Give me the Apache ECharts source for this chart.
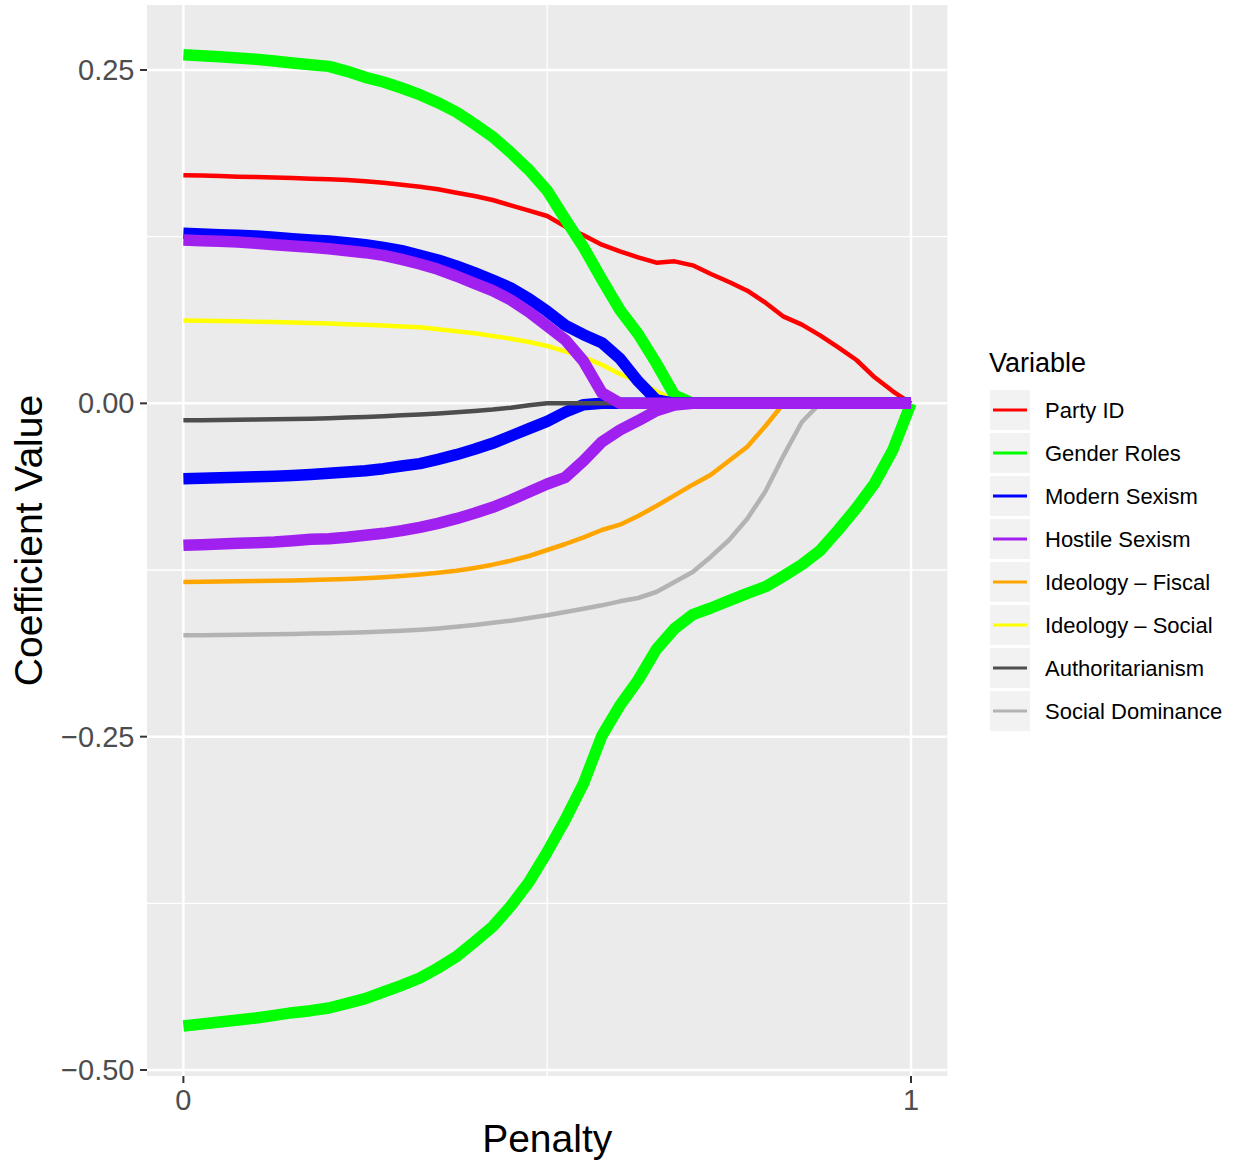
<!DOCTYPE html>
<html>
<head>
<meta charset="utf-8">
<script src="https://cdn.jsdelivr.net/npm/echarts@6/dist/echarts.min.js"></script>
<style>
  html, body { margin: 0; padding: 0; background: #ffffff; }
  #chart { width: 1239px; height: 1163px; }
</style>
</head>
<body>
<div id="chart"></div>
<script>
// ---------------- data ----------------
const penalty = [0, 0.025, 0.05, 0.075, 0.1, 0.125, 0.15, 0.175, 0.2, 0.225, 0.25, 0.275, 0.3, 0.325, 0.35, 0.375, 0.4, 0.425, 0.45, 0.475, 0.5, 0.525, 0.55, 0.575, 0.6, 0.625, 0.65, 0.675, 0.7, 0.725, 0.75, 0.775, 0.8, 0.825, 0.85, 0.875, 0.9, 0.925, 0.95, 0.975, 1];

const partyId = [0.171, 0.1708, 0.1705, 0.170, 0.1697, 0.1693, 0.169, 0.1685, 0.168, 0.1675, 0.1665, 0.1655, 0.164, 0.1625, 0.1605, 0.158, 0.1555, 0.1525, 0.1485, 0.1445, 0.1405, 0.1325, 0.126, 0.119, 0.114, 0.1095, 0.1055, 0.1065, 0.1035, 0.097, 0.091, 0.0845, 0.0755, 0.065, 0.059, 0.051, 0.042, 0.0325, 0.0195, 0.009, 0];

const genderRolesA = [0.2615, 0.2607, 0.260, 0.259, 0.258, 0.2567, 0.2553, 0.254, 0.2527, 0.249, 0.2445, 0.241, 0.2365, 0.2315, 0.2255, 0.2185, 0.2095, 0.200, 0.188, 0.175, 0.1595, 0.138, 0.117, 0.093, 0.070, 0.052, 0.030, 0.006, 0, 0, 0, 0, 0, 0, 0, 0, 0, 0, 0, 0, 0];

const genderRolesB = [-0.467, -0.4655, -0.464, -0.4625, -0.461, -0.459, -0.457, -0.4555, -0.4535, -0.450, -0.4465, -0.4415, -0.4365, -0.431, -0.4235, -0.415, -0.404, -0.3925, -0.377, -0.359, -0.3365, -0.312, -0.285, -0.2495, -0.2265, -0.2075, -0.1845, -0.169, -0.1585, -0.1535, -0.148, -0.1425, -0.1375, -0.1295, -0.121, -0.1105, -0.095, -0.0785, -0.060, -0.035, 0];

const modernSexismA = [0.1275, 0.127, 0.1265, 0.126, 0.1255, 0.1245, 0.1235, 0.1225, 0.1217, 0.1205, 0.119, 0.117, 0.1145, 0.111, 0.1075, 0.103, 0.098, 0.0925, 0.0865, 0.0785, 0.069, 0.0585, 0.0515, 0.0455, 0.0335, 0.0165, 0.0025, 0, 0, 0, 0, 0, 0, 0, 0, 0, 0, 0, 0, 0, 0];

const modernSexismB = [-0.0565, -0.0562, -0.0558, -0.0555, -0.0551, -0.0547, -0.0541, -0.0534, -0.0525, -0.0515, -0.0505, -0.049, -0.047, -0.0452, -0.042, -0.0385, -0.0345, -0.030, -0.0245, -0.019, -0.0135, -0.0065, -0.001, 0, 0, 0, 0, 0, 0, 0, 0, 0, 0, 0, 0, 0, 0, 0, 0, 0, 0];

const hostileSexismA = [0.1225, 0.122, 0.1215, 0.121, 0.120, 0.119, 0.118, 0.117, 0.116, 0.1145, 0.113, 0.111, 0.108, 0.1045, 0.1005, 0.0955, 0.090, 0.0845, 0.0775, 0.0685, 0.058, 0.0475, 0.0315, 0.008, 0, 0, 0, 0, 0, 0, 0, 0, 0, 0, 0, 0, 0, 0, 0, 0, 0];

const hostileSexismB = [-0.1065, -0.106, -0.1055, -0.105, -0.1045, -0.104, -0.103, -0.102, -0.1015, -0.1005, -0.099, -0.0975, -0.0955, -0.093, -0.090, -0.0865, -0.0825, -0.078, -0.0725, -0.0665, -0.0605, -0.0555, -0.043, -0.029, -0.020, -0.013, -0.0055, -0.0013, 0, 0, 0, 0, 0, 0, 0, 0, 0, 0, 0, 0, 0];

const ideologyFiscal = [-0.134, -0.1338, -0.1336, -0.1334, -0.1332, -0.133, -0.1328, -0.1325, -0.1322, -0.1318, -0.1312, -0.1305, -0.1295, -0.1283, -0.127, -0.1255, -0.1235, -0.121, -0.118, -0.1145, -0.110, -0.1055, -0.1005, -0.095, -0.091, -0.0845, -0.077, -0.069, -0.061, -0.0535, -0.043, -0.0325, -0.017, 0, 0, 0, 0, 0, 0, 0, 0];

const ideologySocial = [0.0622, 0.062, 0.0618, 0.0615, 0.0612, 0.061, 0.0606, 0.0602, 0.0598, 0.0594, 0.059, 0.0584, 0.0577, 0.057, 0.0555, 0.054, 0.0525, 0.0505, 0.0485, 0.046, 0.043, 0.039, 0.0345, 0.029, 0.022, 0.0165, 0.009, 0.002, 0, 0, 0, 0, 0, 0, 0, 0, 0, 0, 0, 0, 0];

const authoritarianism = [-0.0127, -0.0126, -0.0125, -0.0124, -0.0122, -0.012, -0.0118, -0.0115, -0.0111, -0.0107, -0.0102, -0.0096, -0.009, -0.0083, -0.0076, -0.0067, -0.0057, -0.0047, -0.0033, -0.0015, 0, 0, 0, 0, 0, 0, 0, 0, 0, 0, 0, 0, 0, 0, 0, 0, 0, 0, 0, 0, 0];

const socialDominance = [-0.174, -0.1739, -0.1738, -0.1736, -0.1734, -0.1732, -0.173, -0.1727, -0.1724, -0.172, -0.1716, -0.1712, -0.1706, -0.1698, -0.1688, -0.1676, -0.1662, -0.1646, -0.163, -0.161, -0.159, -0.1565, -0.154, -0.1515, -0.1485, -0.146, -0.1415, -0.134, -0.1265, -0.115, -0.1025, -0.0865, -0.066, -0.039, -0.014, 0, 0, 0, 0, 0, 0];

const variables = ['Party ID', 'Gender Roles', 'Modern Sexism', 'Hostile Sexism', 'Ideology \u2013 Fiscal', 'Ideology \u2013 Social', 'Authoritarianism', 'Social Dominance'];

const xTickValues = [0, 1];
const xTickLabels = ['0', '1'];
const yTickValues = [-0.5, -0.25, 0, 0.25];
const yTickLabels = ['\u22120.50', '\u22120.25', '0.00', '0.25'];
const yMinorGrid = [-0.375, -0.125, 0.125];
const xMinorGrid = [0.5];

// ---------------- styles ----------------
const FONT = 'Liberation Sans, Arial, Helvetica, sans-serif';
const colors = {
  'Party ID': '#FF0000',
  'Gender Roles': '#00FF00',
  'Modern Sexism': '#0000FF',
  'Hostile Sexism': '#A020F0',
  'Ideology \u2013 Fiscal': '#FFA500',
  'Ideology \u2013 Social': '#FFFF00',
  'Authoritarianism': '#4D4D4D',
  'Social Dominance': '#B3B3B3'
};
const THIN = 4.5, THICK = 11.5;
const TICK_LEN = 7;

function lineSeries(name, values, width) {
  return {
    type: 'line',
    name: name,
    data: penalty.map((p, i) => [p, values[i]]),
    showSymbol: false,
    symbol: 'none',
    silent: true,
    animation: false,
    z: 3,
    itemStyle: { color: colors[name] },
    lineStyle: { color: colors[name], width: width, cap: 'butt', join: 'round' },
    emphasis: { disabled: true }
  };
}

// white panel grid lines, spanning the whole panel
function gridSeries(values, horizontal, width) {
  return {
    type: 'custom',
    silent: true,
    animation: false,
    z: 1,
    data: values.map(v => horizontal ? [0, v] : [v, 0]),
    renderItem: function (params, api) {
      const cs = params.coordSys;
      if (horizontal) {
        const y = api.coord([0, api.value(1)])[1];
        return { type: 'line', shape: { x1: cs.x, y1: y, x2: cs.x + cs.width, y2: y },
                 style: { stroke: '#FFFFFF', lineWidth: width } };
      } else {
        const x = api.coord([api.value(0), 0])[0];
        return { type: 'line', shape: { x1: x, y1: cs.y, x2: x, y2: cs.y + cs.height },
                 style: { stroke: '#FFFFFF', lineWidth: width } };
      }
    }
  };
}

// small outside tick marks (ggplot style), placed through the axis scales
function tickSeries(values, horizontal) {
  return {
    type: 'custom',
    silent: true,
    animation: false,
    clip: false,
    z: 5,
    data: values.map(v => horizontal ? [0, v] : [v, 0]),
    renderItem: function (params, api) {
      const cs = params.coordSys;
      if (horizontal) {
        const y = api.coord([0, api.value(1)])[1];
        return { type: 'line', shape: { x1: cs.x - TICK_LEN, y1: y, x2: cs.x, y2: y },
                 style: { stroke: '#333333', lineWidth: 2 } };
      } else {
        const x = api.coord([api.value(0), 0])[0];
        const yb = cs.y + cs.height;
        return { type: 'line', shape: { x1: x, y1: yb, x2: x, y2: yb + TICK_LEN },
                 style: { stroke: '#333333', lineWidth: 2 } };
      }
    }
  };
}

const chart = echarts.init(document.getElementById('chart'), null, { renderer: 'svg', width: 1239, height: 1163 });

const legendBoxes = variables.map((v, i) => ({
  type: 'rect',
  shape: { x: 990, y: 390 + i * 43, width: 40, height: 40 },
  style: { fill: '#F2F2F2' },
  z: 0,
  silent: true
}));

const option = {
  animation: false,
  backgroundColor: '#FFFFFF',
  textStyle: { fontFamily: FONT },
  title: {
    text: 'Variable',
    left: 989,
    top: 349,
    padding: 0,
    textStyle: { fontSize: 27, fontWeight: 'normal', color: '#000000', lineHeight: 27, fontFamily: FONT }
  },
  legend: {
    orient: 'vertical',
    left: 993,
    top: 390,
    padding: 0,
    itemGap: 3,
    itemWidth: 34,
    itemHeight: 3,
    icon: 'rect',
    selectedMode: false,
    data: variables,
    itemStyle: { borderWidth: 0 },
    textStyle: { fontSize: 22, color: '#000000', lineHeight: 40, padding: [0, 0, 0, 13], fontFamily: FONT },
    z: 10
  },
  graphic: legendBoxes,
  grid: {
    left: 147,
    right: 291.6,
    top: 5,
    bottom: 87,
    show: true,
    backgroundColor: '#EBEBEB',
    borderWidth: 0,
    containLabel: false,
    outerBoundsMode: 'none'
  },
  xAxis: {
    type: 'value',
    min: -0.05,
    max: 1.05,
    name: 'Penalty',
    nameLocation: 'middle',
    nameGap: 40,
    nameTextStyle: { fontSize: 39, color: '#000000', lineHeight: 39, fontFamily: FONT },
    axisLine: { show: false },
    splitLine: { show: false },
    axisTick: { show: false },
    axisLabel: {
      show: true, customValues: xTickValues, margin: 9,
      fontSize: 29, color: '#4D4D4D', lineHeight: 29, fontFamily: FONT,
      formatter: v => { const i = xTickValues.indexOf(v); return i >= 0 ? xTickLabels[i] : ''; }
    }
  },
  yAxis: {
    type: 'value',
    min: -0.5045,
    max: 0.29875,
    name: 'Coefficient Value',
    nameLocation: 'middle',
    nameRotate: 90,
    nameGap: 99,
    nameTextStyle: { fontSize: 39, color: '#000000', lineHeight: 39, fontFamily: FONT },
    axisLine: { show: false },
    splitLine: { show: false },
    axisTick: { show: false },
    axisLabel: {
      show: true, customValues: yTickValues, margin: 12.5,
      fontSize: 29, color: '#4D4D4D', fontFamily: FONT,
      formatter: v => { const i = yTickValues.indexOf(v); return i >= 0 ? yTickLabels[i] : ''; }
    }
  },
  series: [
    gridSeries(yMinorGrid, true, 1.3),
    gridSeries(xMinorGrid, false, 1.3),
    gridSeries(yTickValues, true, 2.5),
    gridSeries(xTickValues, false, 2.5),
    tickSeries(yTickValues, true),
    tickSeries(xTickValues, false),
    lineSeries('Party ID', partyId, THIN),
    lineSeries('Ideology \u2013 Fiscal', ideologyFiscal, THIN),
    lineSeries('Ideology \u2013 Social', ideologySocial, THIN),
    lineSeries('Social Dominance', socialDominance, THIN),
    lineSeries('Gender Roles', genderRolesA, THICK),
    lineSeries('Gender Roles', genderRolesB, THICK),
    lineSeries('Modern Sexism', modernSexismA, THICK),
    lineSeries('Modern Sexism', modernSexismB, THICK),
    lineSeries('Authoritarianism', authoritarianism, THIN),
    lineSeries('Hostile Sexism', hostileSexismA, THICK),
    lineSeries('Hostile Sexism', hostileSexismB, THICK)
  ]
};

chart.setOption(option);
</script>
</body>
</html>
